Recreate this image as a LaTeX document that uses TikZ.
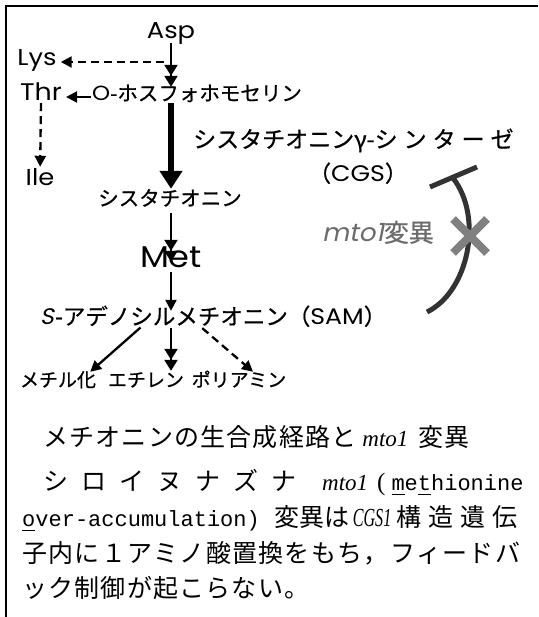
\documentclass[tikz,border=0pt]{standalone}
\usepackage{fontspec}
\setmainfont[FakeBold=0.6]{Noto Sans CJK JP}
\newfontfamily\jpc{Noto Sans CJK JP}
\newfontfamily\lat[FakeStretch=1.12]{Poppins}
\newfontfamily\latit[FakeSlant=0.2,FakeStretch=1.05]{Poppins}
\newfontfamily\capit{Liberation Serif}
\newfontfamily\capnarrow[FakeStretch=0.62]{Liberation Serif}
\newfontfamily\capmono{Liberation Mono}
\usetikzlibrary{arrows.meta}
\newcommand\fsz[1]{\fontsize{#1}{#1}\selectfont}
\newcommand\ulc[1]{\rlap{\rule[-4pt]{0.6em}{1.3pt}}#1}
\newcommand\jg{\hskip1.2pt}
\newcommand\jw{\hskip13pt}
\newcommand\kg{\hskip6pt}
\begin{document}
\begin{tikzpicture}[x=1pt,y=-1pt,
  lbl/.style={inner sep=0pt, text height=0.88em, text depth=0.12em},
  captext/.style={lbl, anchor=west, font=\fsz{25}\jpc},
  ar/.style={line width=2.3pt, -{Triangle[length=11pt,width=11pt]}},
  dar/.style={line width=2.3pt, -{Triangle[length=11pt,width=13pt]Triangle[length=11pt,width=13pt]}},
  dsh/.style={dash pattern=on 8pt off 5pt},
  thick arrow/.style={line width=5.5pt, -{Triangle[length=18pt,width=22pt]}},
  fb/.style={line width=5pt, draw=black!80},
  xmark/.style={line width=8pt, draw=black!50}
]
\useasboundingbox (0,0) rectangle (538,617);
\draw[line width=2pt] (5.5,617) -- (5.5,6) -- (538,6);

% nodes
\node[lbl, font=\fsz{23}\lat] (asp) at (171,35) {Asp};
\node[lbl, font=\fsz{23}\lat] (lys) at (37,62) {Lys};
\node[lbl, font=\fsz{24}\lat] (thr) at (41,97) {Thr};
\node[lbl, font=\fsz{23}\lat] (ile) at (40,182) {Ile};
\node[lbl, anchor=west, font=\fsz{20.5}] (opho) at (92,97) {{\lat O}-ホスフォホモセリン};
\node[lbl, anchor=west, font=\fsz{23}] (cgsname) at (193,144) {シスタチオニンγ-シ\kg ン\kg タ\kg ー\kg ゼ};
\node[lbl, font=\fsz{22.5}] (cgs) at (358,178) {（{\lat CGS}）};
\node[lbl, font=\fsz{20.5}] (cysta) at (170,202) {シスタチオニン};
\node[lbl, font=\fsz{30}\lat] (met) at (171,264) {Met};
\node[lbl, anchor=west, font=\fsz{22.5}] (sam) at (40,321) {{\latit S}\hskip1pt-アデノシルメチオニン（{\lat SAM}）};
\node[lbl, font=\fsz{19}] (meth) at (58,383) {メチル化};
\node[lbl, font=\fsz{19}] (ethy) at (146,383) {エチレン};
\node[lbl, font=\fsz{19}] (poly) at (239,383) {ポリアミン};
\node[lbl, font=\fsz{25}, text=black!58] (mto) at (378,238) {{\latit mto1}変異};

% helper coordinates
\coordinate (j1) at ([xshift=-7pt]asp.south |- lys.east);
\coordinate (s1) at ([xshift=-29pt]asp.south |- sam.south);
\coordinate (s2) at (asp.south |- sam.south);
\coordinate (s3) at ([xshift=29pt]asp.south |- sam.south);
\coordinate (fbs) at (427,312);
\coordinate (fbe) at (453,178);
\coordinate (tb1) at (430,187);
\coordinate (tb2) at (477,167);
\coordinate (xc) at (470,236);

% connectors
\draw[dar, shorten <=3pt, shorten >=5pt] (asp.south) -- (asp.south |- opho.north);
\draw[ar, dsh, shorten >=4pt] (j1) -- (lys.east);
\draw[ar, shorten <=1pt, shorten >=4pt] (opho.west) -- (thr.east);
\draw[ar, dsh, shorten <=1pt, shorten >=10pt] (thr.south) -- (ile.north);
\draw[thick arrow, shorten <=1pt, shorten >=8pt] (asp.south |- opho.south) -- (asp.south |- cysta.north);
\draw[dar, shorten <=6pt, shorten >=-3pt] (asp.south |- cysta.south) -- (asp.south |- met.north);
\draw[ar, shorten <=3pt, shorten >=5pt] (asp.south |- met.south) -- (asp.south |- sam.north);
\draw[ar, shorten <=2pt] (s1) -- ([xshift=-6pt,yshift=6pt]meth.north east);
\draw[dar, shorten <=2pt] (s2) -- ([yshift=7pt]asp.south |- ethy.north);
\draw[ar, dsh, shorten <=3pt] (s3) -- ([xshift=14pt,yshift=6pt]poly.north);

% feedback inhibition
\draw[fb] (fbs) .. controls (468,292) and (484,218) .. (fbe);
\draw[fb] (tb1) -- (tb2);
\draw[xmark] ([shift={(-17,-17)}]xc) -- ([shift={(17,17)}]xc);
\draw[xmark] ([shift={(-17,17)}]xc) -- ([shift={(17,-17)}]xc);

% caption
\node[captext] (c1) at (43,443) {メ\jg チ\jg オ\jg ニ\jg ン\jg の\jg 生\jg 合\jg 成\jg 経\jg 路\jg と\hskip6pt{\fsz{23}\capit\itshape mto1}\hskip10pt 変\jg 異};
\node[captext] (c2) at (43,487) {シ\jw ロ\jw イ\jw ヌ\jw ナ\jw ズ\jw ナ\hskip26pt{\fsz{23}\capit\itshape mto1}\hskip9pt{\capit (}\hskip6pt{\fsz{22}\capmono \ulc{m}e\ulc{t}hionine}};
\node[captext] (c3) at (22,523) {{\fsz{22}\capmono \ulc{o}ver-accumulation)}\hskip15pt 変異は\hskip3pt{\fsz{26}\capnarrow\itshape CGS1}\hskip5pt 構\hskip7pt 造\hskip7pt 遺\hskip7pt 伝};
\node[captext] (c4) at (22,559) {\hbox to 498pt{子\hfil 内\hfil に\hfil １\hfil ア\hfil ミ\hfil ノ\hfil 酸\hfil 置\hfil 換\hfil を\hfil も\hfil ち\hfil ，\hfil フ\hfil ィ\hfil ー\hfil ド\hfil バ}};
\node[captext] (c5) at (22,594) {ッ\jg ク\jg 制\jg 御\jg が\jg 起\jg こ\jg ら\jg な\jg い\jg 。};
\end{tikzpicture}
\end{document}
